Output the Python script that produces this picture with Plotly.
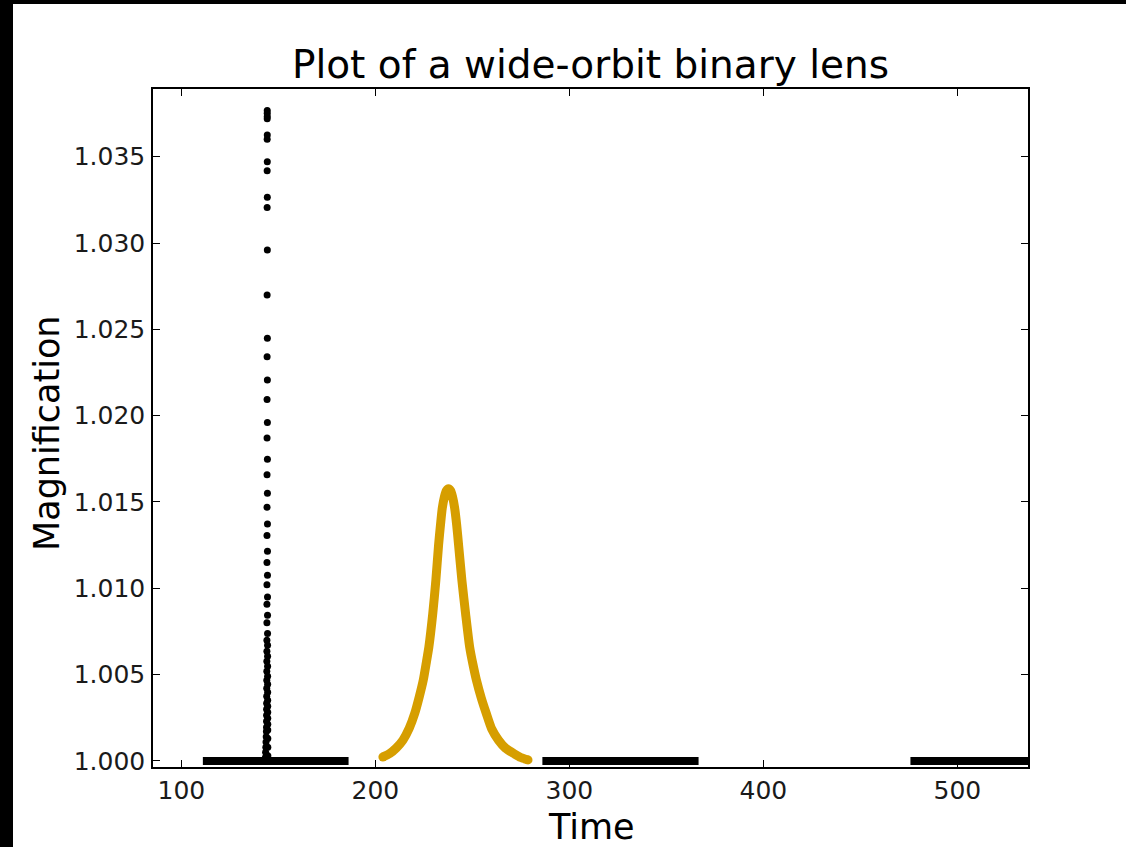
import plotly.graph_objects as go

# ---------------- data ----------------
# flat (baseline) segments of the black light curve: start / end times, magnification
flat_start = [111.1, 286.1, 475.8]
flat_end = [186.2, 366.6, 540.0]
flat_mag = [1.0, 1.0, 1.0]

# planetary spike (black dots)
spike_t = [143.35, 143.45, 143.55, 143.65, 143.75, 143.85, 143.90, 143.92, 143.94, 143.96,
           143.98, 144.00, 144.02, 144.04, 144.06, 144.08, 144.10, 144.11, 144.12, 144.13,
           144.14, 144.15, 144.16, 144.17, 144.18, 144.19, 144.20, 144.21, 144.22, 144.23,
           144.24, 144.25, 144.26, 144.27,
           144.28, 144.29, 144.30, 144.31, 144.32, 144.33, 144.34, 144.35, 144.36, 144.37,
           144.38, 144.39, 144.40, 144.41, 144.42, 144.43, 144.44, 144.45, 144.46, 144.47,
           144.48, 144.49, 144.50, 144.51, 144.52, 144.53, 144.54, 144.55, 144.56, 144.57,
           144.58, 144.59]
spike_mag = [1.0002, 1.0005, 1.0008, 1.0011, 1.0014, 1.0017, 1.00195, 1.00230, 1.00265, 1.00300,
             1.00334, 1.00375, 1.00421, 1.00468, 1.00520, 1.00578, 1.00636, 1.00699, 1.00800, 1.00908,
             1.01020, 1.01150, 1.01306, 1.01470, 1.01657, 1.01870, 1.02094, 1.02341, 1.02699, 1.03205,
             1.03419, 1.03601, 1.03719, 1.03752,
             1.03767, 1.03732, 1.03626, 1.03471, 1.03265, 1.02959, 1.02448, 1.02207, 1.01961, 1.01748,
             1.01551, 1.01372, 1.01215, 1.01076, 1.00950, 1.00844, 1.00738, 1.00670, 1.00607, 1.00549,
             1.00491, 1.00444, 1.00398, 1.00352, 1.00317, 1.00282, 1.00247, 1.00213, 1.00180, 1.00130,
             1.00080, 1.00030]

# second lens (gold curve)
gold_t = [203.9, 207.4, 210.8, 214.2, 217.5, 220.3, 222.6, 224.7, 226.2, 227.6,
          229.6, 231.2, 232.6, 233.6, 234.5, 235.6, 236.6, 237.7, 238.8, 239.8,
          240.9, 241.9, 242.9, 244.6, 246.5, 248.6, 250.3, 252.1, 254.6, 257.2,
          260.0, 263.5, 267.0, 271.8, 275.0, 278.7]
gold_mag = [1.00023, 1.00043, 1.00075, 1.00120, 1.00190, 1.00275, 1.00370, 1.00468, 1.00565, 1.00661,
            1.00854, 1.01047, 1.01252, 1.01370, 1.01464, 1.01530, 1.01565, 1.01576, 1.01565, 1.01530,
            1.01464, 1.01370, 1.01252, 1.01047, 1.00854, 1.00661, 1.00560, 1.00468, 1.00365, 1.00275,
            1.00185, 1.00120, 1.00075, 1.00040, 1.00020, 1.00006]

x_ticks = [100, 200, 300, 400, 500]
y_ticks = [1.000, 1.005, 1.010, 1.015, 1.020, 1.025, 1.030, 1.035]

title_text = "Plot of a wide-orbit binary lens"
x_label = "Time"
y_label = "Magnification"

# ---------------- figure ----------------
FONT = "DejaVu Sans"
fig = go.Figure()

flat_x, flat_y = [], []
for s, e, m in zip(flat_start, flat_end, flat_mag):
    flat_x += [s, e, None]
    flat_y += [m, m, None]

fig.add_trace(go.Scatter(x=flat_x, y=flat_y, mode="lines",
                         line=dict(color="black", width=8),
                         showlegend=False, hoverinfo="skip"))
fig.add_trace(go.Scatter(x=spike_t, y=spike_mag, mode="markers",
                         marker=dict(color="black", size=7),
                         showlegend=False))
fig.add_trace(go.Scatter(x=gold_t, y=gold_mag, mode="lines",
                         line=dict(color="#D69E00", width=9, shape="spline", smoothing=0.6),
                         showlegend=False))
fig.add_trace(go.Scatter(x=[gold_t[0], gold_t[-1]], y=[gold_mag[0], gold_mag[-1]],
                         mode="markers", marker=dict(color="#D69E00", size=9),
                         showlegend=False, hoverinfo="skip"))

W, H = 1126, 847
L, R, T, B = 153, 98, 89, 80
pw, ph = W - L - R, H - T - B

def px(xp):
    return (xp - L) / pw

def py(yp):
    return (H - B - yp) / ph

axis_common = dict(showgrid=False, zeroline=False, showline=True, linecolor="black",
                   linewidth=1.5, mirror="ticks", ticks="inside", ticklen=7, tickwidth=1,
                   tickcolor="black",
                   tickfont=dict(family=FONT, size=25, color="#1a1a1a"))

fig.update_xaxes(range=[85.4, 536.4], tickvals=x_ticks,
                 ticktext=[str(v) for v in x_ticks], ticklabelstandoff=0, **axis_common)
fig.update_yaxes(range=[0.99965, 1.03892], tickvals=y_ticks,
                 ticktext=[f"{v:.3f}" for v in y_ticks], ticklabelstandoff=1, **axis_common)

fig.update_layout(
    width=W, height=H,
    margin=dict(l=L, r=R, t=T, b=B, autoexpand=False),
    paper_bgcolor="white", plot_bgcolor="white",
    title=dict(text=title_text, x=0.5, xref="paper", xanchor="center",
               y=1 - 64 / H, yref="container", yanchor="middle",
               font=dict(family=FONT, size=39, color="black")),
    annotations=[
        dict(text=y_label, x=px(47), y=py(433), xref="paper", yref="paper",
             showarrow=False, textangle=-90, xanchor="center", yanchor="middle",
             font=dict(family=FONT, size=35, color="black")),
        dict(text=x_label, x=px(591), y=py(827), xref="paper", yref="paper",
             showarrow=False, xanchor="center", yanchor="middle",
             font=dict(family=FONT, size=35, color="black")),
    ],
    shapes=[
        dict(type="rect", xref="paper", yref="paper", x0=px(0), x1=px(13),
             y0=py(H), y1=py(0), fillcolor="black", line=dict(width=0), layer="above"),
        dict(type="rect", xref="paper", yref="paper", x0=px(0), x1=px(W),
             y0=py(4), y1=py(0), fillcolor="black", line=dict(width=0), layer="above"),
    ],
)

fig.write_html("out.html")
